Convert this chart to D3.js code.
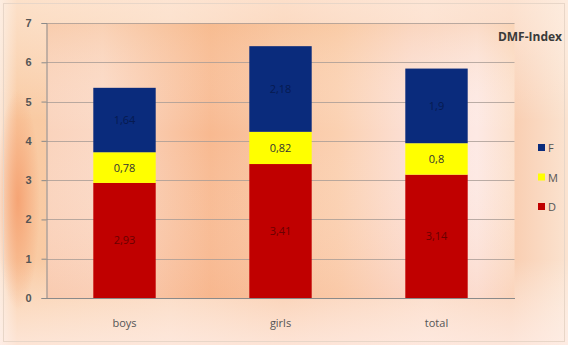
<!DOCTYPE html>
<html><head><meta charset="utf-8">
<script src="https://cdn.jsdelivr.net/npm/d3@7"></script>
<style>html,body{margin:0;padding:0;background:#fff;}svg{display:block;}</style>
</head><body><svg id="c" width="568" height="345"></svg>
<script>
const categories = ["boys", "girls", "total"];
const seriesNames = ["D", "M", "F"];
const valuesD = [2.93, 3.41, 3.14];
const valuesM = [0.78, 0.82, 0.8];
const valuesF = [1.64, 2.18, 1.9];
const labelsD = ["2,93", "3,41", "3,14"];
const labelsM = ["0,78", "0,82", "0,8"];
const labelsF = ["1,64", "2,18", "1,9"];
const yTicks = [0, 1, 2, 3, 4, 5, 6, 7];
const titleText = "DMF-Index";

const colors = {D: "#c00000", M: "#ffff00", F: "#0a2b7c"};
const svg = d3.select("#c");
const W = 568, H = 345;
const defs = svg.append("defs");

const bg = defs.append("linearGradient").attr("id", "bg").attr("x1", 0).attr("y1", 0).attr("x2", 1).attr("y2", 0);
[[0, "#fbe6d6"], [0.03, "#f9c9a0"], [0.3, "#fad2b4"], [0.5, "#f9c5a0"], [0.75, "#fbd5bd"], [0.9, "#f9cdb0"], [1, "#fbe3d0"]]
  .forEach(([o, c]) => bg.append("stop").attr("offset", o).attr("stop-color", c));
const bgv = defs.append("linearGradient").attr("id", "bgv").attr("x1", 0).attr("y1", 0).attr("x2", 0).attr("y2", 1);
[[0, "#fff3ea", 0.55], [0.35, "#ffffff", 0], [0.75, "#ffffff", 0], [1, "#fff0ec", 0.7]]
  .forEach(([o, c, a]) => bgv.append("stop").attr("offset", o).attr("stop-color", c).attr("stop-opacity", a));
const leftBand = defs.append("radialGradient").attr("id", "lb").attr("cx", 0.5).attr("cy", 0.5).attr("r", 0.5);
[[0, "#f5a070", 0.9], [1, "#f5a070", 0]].forEach(([o, c, a]) => leftBand.append("stop").attr("offset", o).attr("stop-color", c).attr("stop-opacity", a));

const pg = defs.append("linearGradient").attr("id", "pg").attr("x1", 0).attr("y1", 0).attr("x2", 1).attr("y2", 0);
[[0, "#fad3bc"], [0.12, "#fbd9c6"], [0.35, "#f8b990"], [0.5, "#f9c7a5"], [0.62, "#fbd0b0"], [0.78, "#fce0d6"], [0.92, "#fde9e4"], [1, "#fce0cc"]]
  .forEach(([o, c]) => pg.append("stop").attr("offset", o).attr("stop-color", c));
const pgv = defs.append("linearGradient").attr("id", "pgv").attr("x1", 0).attr("y1", 0).attr("x2", 0).attr("y2", 1);
[[0, "#f6c090", 0.35], [0.4, "#ffffff", 0], [1, "#f6b088", 0.25]]
  .forEach(([o, c, a]) => pgv.append("stop").attr("offset", o).attr("stop-color", c).attr("stop-opacity", a));

svg.append("rect").attr("x", 0).attr("y", 0).attr("width", W).attr("height", H).attr("fill", "url(#bg)");
svg.append("rect").attr("x", 0).attr("y", 0).attr("width", W).attr("height", H).attr("fill", "url(#bgv)");
svg.append("ellipse").attr("cx", 18).attr("cy", 200).attr("rx", 22).attr("ry", 110).attr("fill", "url(#lb)");
svg.append("rect").attr("x", 3.5).attr("y", 3.5).attr("width", W - 7).attr("height", H - 7)
  .attr("fill", "none").attr("stroke", "#e8d6c8").attr("stroke-width", 1);

const m = {left: 46.5, right: 514.5, top: 23, bottom: 298};
const x = d3.scaleBand().domain(categories).range([m.left, m.right]).paddingInner(0.6).paddingOuter(0.3);
const y = d3.scaleLinear().domain([0, 7]).range([m.bottom, m.top]);

svg.append("rect").attr("x", m.left).attr("y", m.top).attr("width", m.right - m.left).attr("height", m.bottom - m.top).attr("fill", "url(#pg)");
svg.append("rect").attr("x", m.left).attr("y", m.top).attr("width", m.right - m.left).attr("height", m.bottom - m.top).attr("fill", "url(#pgv)");

// grid
svg.append("g").selectAll("line").data(yTicks.filter(t => t > 0)).join("line")
  .attr("x1", m.left).attr("x2", m.right)
  .attr("y1", d => Math.round(y(d)) + 0.5).attr("y2", d => Math.round(y(d)) + 0.5)
  .attr("stroke", "#a89c96").attr("stroke-width", 0.8);

// y axis
const ya = svg.append("g").attr("transform", `translate(${m.left},0)`)
  .call(d3.axisLeft(y).tickValues(yTicks).tickSize(5).tickPadding(9).tickFormat(d3.format("d")));
ya.select(".domain").attr("stroke", "#8a8a8a");
ya.selectAll(".tick line").attr("stroke", "#8a8a8a");
ya.selectAll("text").attr("fill", "#555").attr("font-family", "Liberation Sans, Arial, sans-serif").attr("font-size", 11).attr("font-weight", "bold").attr("text-anchor", "middle").attr("dx", -4);

// x axis
const xa = svg.append("g").attr("transform", `translate(0,${m.bottom})`)
  .call(d3.axisBottom(x).tickSize(0).tickPadding(21));
xa.select(".domain").attr("stroke", "#8a8a8a");
xa.selectAll("text").attr("fill", "#555").attr("font-family", "Open Sans, Liberation Sans, sans-serif").attr("font-size", 11);

// stacked
const rows = categories.map((c, i) => ({cat: c, D: valuesD[i], M: valuesM[i], F: valuesF[i],
  lD: labelsD[i], lM: labelsM[i], lF: labelsF[i]}));
const stack = d3.stack().keys(seriesNames)(rows);
const layers = svg.append("g").selectAll("g").data(stack).join("g").attr("fill", d => colors[d.key]);
layers.selectAll("rect").data(d => d.map(p => Object.assign(p, {key: d.key}))).join("rect")
  .attr("x", p => x(p.data.cat)).attr("width", x.bandwidth())
  .attr("y", p => y(p[1])).attr("height", p => y(p[0]) - y(p[1]));
layers.selectAll("text").data(d => d).join("text")
  .attr("x", p => x(p.data.cat) + x.bandwidth() / 2)
  .attr("y", p => (y(p[0]) + y(p[1])) / 2 + 4)
  .attr("text-anchor", "middle")
  .attr("font-family", "Open Sans, Liberation Sans, sans-serif").attr("font-size", 11)
  .attr("fill", p => p.key === "M" ? "#333" : (p.key === "D" ? "#6a0000" : "#061a50"))
  .text(p => p.data["l" + p.key]);

// title
svg.append("text").attr("x", 562).attr("y", 41).attr("text-anchor", "end")
  .attr("font-family", "Open Sans, Liberation Sans, sans-serif").attr("font-size", 12).attr("font-weight", "bold")
  .attr("fill", "#3a3a3a").text(titleText);

// legend
const legendItems = ["F", "M", "D"];
const lg = svg.append("g").selectAll("g").data(legendItems).join("g")
  .attr("transform", (d, i) => `translate(538,${148 + i * 29.5})`);
lg.append("rect").attr("x", 0).attr("y", -4).attr("width", 7).attr("height", 7).attr("fill", d => colors[d]);
lg.append("text").attr("x", 10).attr("y", 4).attr("font-family", "Open Sans, Liberation Sans, sans-serif").attr("font-size", 11).attr("fill", "#555").text(d => d);
</script></body></html>
